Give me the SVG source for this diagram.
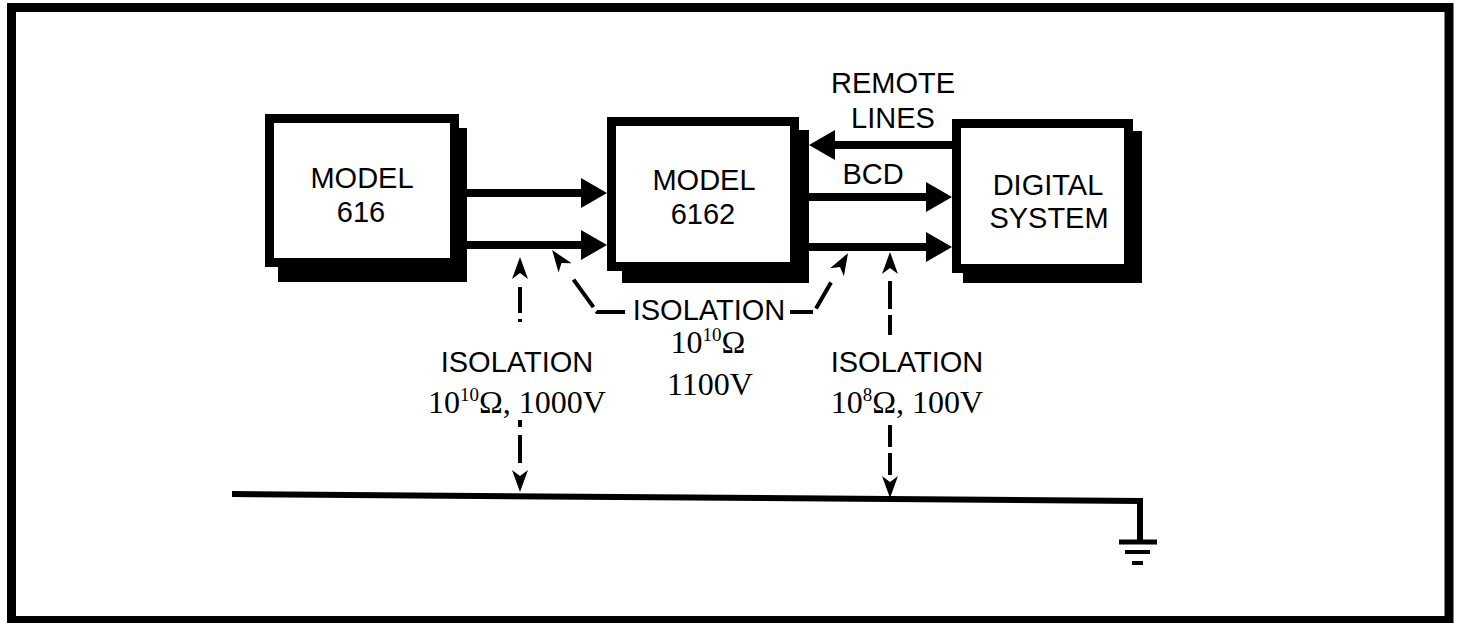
<svg xmlns="http://www.w3.org/2000/svg" width="1460" height="623" viewBox="0 0 1460 623">
<style>
.shadow{fill:#000}
.box{fill:#fff;stroke:#000;stroke-width:9}
.lbl{font-family:"Liberation Sans",Arial,sans-serif;font-size:29px;fill:#000;text-anchor:middle}
.num{font-family:"Liberation Serif","Times New Roman",serif;font-size:32px;fill:#000;text-anchor:middle}
.sup{font-size:19px}
.thick{stroke:#000;stroke-width:8;fill:none}
.dash{stroke:#000;stroke-width:4;fill:none}
.gnd{stroke:#000;fill:none}
</style>
<defs>
<marker id="ah" markerUnits="userSpaceOnUse" markerWidth="26" markerHeight="30" refX="4" refY="15" orient="auto" viewBox="0 0 26 30">
<path d="M0,0 L26,15 L0,30 Z" fill="#000"/>
</marker>
<marker id="dh" markerUnits="userSpaceOnUse" markerWidth="22" markerHeight="16" refX="6" refY="8" orient="auto" viewBox="0 0 22 16">
<path d="M22,8 L0,0 L6,8 L0,16 Z" fill="#000"/>
</marker>
</defs>
<rect width="1460" height="623" fill="#fff"/>
<rect id="frame" x="11.5" y="7.5" width="1437.5" height="613" fill="none" stroke="#000" stroke-width="9"/>

<g id="model616">
<rect class="shadow" x="278" y="128" width="189" height="154"/>
<rect class="box" x="269.5" y="118.5" width="185" height="144"/>
<text class="lbl" x="362" y="188">MODEL</text>
<text class="lbl" x="361" y="222">616</text>
</g>

<g id="model6162">
<rect class="shadow" x="622" y="130" width="187" height="153"/>
<rect class="box" x="611.5" y="121.5" width="183" height="145"/>
<text class="lbl" x="704" y="190">MODEL</text>
<text class="lbl" x="703" y="224">6162</text>
</g>

<g id="digital">
<rect class="shadow" x="963" y="131" width="179" height="152"/>
<rect class="box" x="956.5" y="123.5" width="172" height="145"/>
<text class="lbl" x="1048" y="195">DIGITAL</text>
<text class="lbl" x="1049" y="228">SYSTEM</text>
</g>

<g id="connectors">
<line class="thick" x1="467" y1="193" x2="585" y2="193" marker-end="url(#ah)"/>
<line class="thick" x1="467" y1="245" x2="585" y2="245" marker-end="url(#ah)"/>
<line class="thick" x1="952" y1="145" x2="831" y2="145" marker-end="url(#ah)"/>
<line class="thick" x1="809" y1="197" x2="930" y2="197" marker-end="url(#ah)"/>
<line class="thick" x1="809" y1="247" x2="930" y2="247" marker-end="url(#ah)"/>

<path class="dash" d="M520,322 L520,273" stroke-dasharray="3 6 26 40" marker-end="url(#dh)"/>
<path class="dash" d="M520,420 L520,476" stroke-dasharray="7 8 28 40" marker-end="url(#dh)"/>
<path class="dash" d="M890,335 L890,268" stroke-dasharray="20 6 28 40" marker-end="url(#dh)"/>
<path class="dash" d="M890,425 L890,482" stroke-dasharray="22 6 22 40" marker-end="url(#dh)"/>

<path class="dash" d="M625,312 L597,312 L561.5,263" stroke-dasharray="29 5 34 60" marker-end="url(#dh)"/>
<path class="dash" d="M790,312 L814,312 L840,267" stroke-dasharray="23 5 30 60" marker-end="url(#dh)"/>

<path class="gnd" d="M232,494 L1140,501 L1140,542" stroke-width="6"/>
<line class="gnd" x1="1119" y1="542" x2="1157" y2="542" stroke-width="5"/>
<line class="gnd" x1="1125" y1="552" x2="1150" y2="552" stroke-width="4"/>
<line class="gnd" x1="1132" y1="563" x2="1143" y2="563" stroke-width="4"/>
</g>

<g id="labels">
<text class="lbl" x="893" y="93">REMOTE</text>
<text class="lbl" x="893" y="128">LINES</text>
<text class="lbl" x="873" y="184">BCD</text>

<text class="lbl" x="709" y="320">ISOLATION</text>
<text class="num" x="708" y="353">10<tspan class="sup" dy="-12">10</tspan><tspan dy="12">Ω</tspan></text>
<text class="num" x="710" y="395">1100V</text>

<text class="lbl" x="517" y="372">ISOLATION</text>
<text class="num" x="517" y="413">10<tspan class="sup" dy="-12">10</tspan><tspan dy="12">Ω, 1000V</tspan></text>

<text class="lbl" x="907" y="372">ISOLATION</text>
<text class="num" x="907" y="413">10<tspan class="sup" dy="-12">8</tspan><tspan dy="12">Ω, 100V</tspan></text>
</g>
</svg>
